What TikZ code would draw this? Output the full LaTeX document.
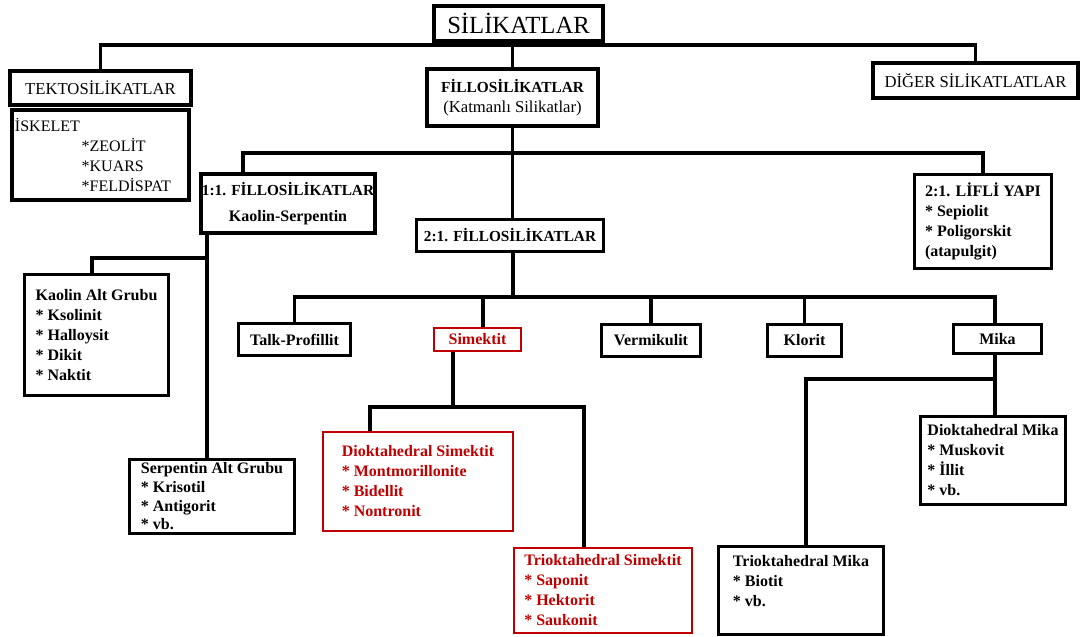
\documentclass[tikz,border=0pt]{standalone}
\usepackage{fontspec}
\setmainfont{Liberation Serif}
\usepackage{tikz}
\definecolor{kirmizi}{RGB}{192,0,0}

\begin{document}
\begin{tikzpicture}
            [x=0.75pt, y=-0.75pt,
             every node/.style={inner sep=0pt, fill=white},
             kalin/.style={draw=black, line width=3pt},
             orta/.style={draw=black, line width=2.3pt},
             kirmizikutu/.style={draw=kirmizi, line width=1.9pt, text=kirmizi},
             baslik/.style={font=\fontsize{12}{15}\selectfont\bfseries},
             liste/.style={align=left, font=\fontsize{12}{15}\selectfont\bfseries},
             hat/.style={line width=2.8pt}]
                \fill [white] (0,0) rectangle (1086,636);
                \useasboundingbox (0,0) rectangle (1086,636);
                % ust seviye
                \node (sil) [kalin, minimum width=126.75pt, minimum height=26.25pt, font=\fontsize{18.5}{20}\selectfont] at (518.5,23.5) {SİLİKATLAR};
                \node (tek) [kalin, minimum width=135.75pt, minimum height=25.5pt, font=\fontsize{12.5}{15}\selectfont] at (100.5,88) {TEKTOSİLİKATLAR};
                \node (isk) [kalin, minimum height=67.5pt, text width=128.25pt, inner xsep=2.25pt, align=left, font=\fontsize{12}{15}\selectfont] at (100.5,155) {İSKELET\\\hspace*{50pt}*ZEOLİT\\\hspace*{50pt}*KUARS\\\hspace*{50pt}*FELDİSPAT};
                \node (fil) [kalin, minimum width=128.25pt, minimum height=42.75pt, align=center, font=\fontsize{11.5}{15}\selectfont] at (512.5,97.5) {\bfseries FİLLOSİLİKATLAR\\\fontsize{12.5}{15}\selectfont(Katmanlı Silikatlar)};
                \node (dig) [kalin, minimum width=153.75pt, minimum height=26.25pt, font=\fontsize{12.5}{15}\selectfont] at (975.5,80.5) {DİĞER SİLİKATLATLAR};
                % fillosilikatlar
                \node (bir) [kalin, minimum width=130.5pt, minimum height=44.25pt, align=center, font=\fontsize{11.5}{14}\selectfont\bfseries] at (288,203.5) {1:1. FİLLOSİLİKATLAR\\[5pt]\fontsize{12}{14}\selectfont Kaolin-Serpentin};
                \node (iki) [orta, minimum width=140.25pt, minimum height=24pt, font=\fontsize{11.5}{14}\selectfont\bfseries] at (510,235.5) {2:1. FİLLOSİLİKATLAR};
                \node (lif) [orta, liste, minimum width=102.75pt, minimum height=70.5pt] at (983,221.5) {2:1. LİFLİ YAPI\\{*} Sepiolit\\{*} Poligorskit\\(atapulgit)};
                % 2:1 gruplari
                \node (talk) [orta, baslik, minimum width=84pt, minimum height=24pt] at (294.5,339.5) {Talk-Profillit};
                \node (sim) [kirmizikutu, baslik, minimum width=65.25pt, minimum height=17.25pt] at (477.5,339.5) {Simektit};
                \node (ver) [orta, baslik, minimum width=74.25pt, minimum height=24pt] at (651,340.5) {Vermikulit};
                \node (klo) [orta, baslik, minimum width=55.5pt, minimum height=24pt] at (804.5,340.5) {Klorit};
                \node (mik) [orta, baslik, minimum width=66pt, minimum height=21.75pt] at (997.5,339) {Mika};
                % alt gruplar
                \node (kao) [orta, liste, minimum width=108pt, minimum height=90.75pt] at (96.5,335) {Kaolin Alt Grubu\\{*} Ksolinit\\{*} Halloysit\\{*} Dikit\\{*} Naktit};
                \node (ser) [orta, liste, minimum width=123.75pt, minimum height=55.5pt, font=\fontsize{12}{14}\selectfont\bfseries] at (212,496.5) {Serpentin Alt Grubu\\{*} Krisotil\\{*} Antigorit\\{*} vb.};
                \node (dio) [kirmizikutu, liste, minimum width=142.5pt, minimum height=74.25pt] at (418,481.5) {Dioktahedral Simektit\\{*} Montmorillonite\\{*} Bidellit\\{*} Nontronit};
                \node (tri) [kirmizikutu, liste, minimum width=133.5pt, minimum height=63.75pt] at (603,590.5) {Trioktahedral Simektit\\{*} Saponit\\{*} Hektorit\\{*} Saukonit};
                \node (dmik) [orta, liste, minimum width=108.75pt, minimum height=66pt] at (993,460.5) {Dioktahedral Mika\\{*} Muskovit\\{*} İllit\\{*} vb.};
                \node (tmik) [orta, liste, minimum width=123.75pt, minimum height=66pt] at (801,590.5) {Trioktahedral Mika\\{*} Biotit\\{*} vb.\\\mbox{}};
                % baglantilar
                \coordinate (h1) at (513,45);
                \coordinate (h2) at (513,153);
                \coordinate (b1) at (243,153);
                \coordinate (h3) at (513,297);
                \coordinate (s1) at (483,297);
                \coordinate (s2) at (453,407);
                \coordinate (s3) at (370,407);
                \coordinate (s4) at (584,407);
                \coordinate (m1) at (806,379);
                \coordinate (m2) at (995,379);
                \coordinate (k1) at (207,258);
                \coordinate (k2) at (92,258);
                \draw [hat] (tek.north) |- (h1) -| (dig.north);
                \draw [hat] (fil.north |- sil.south) -- (fil.north);
                \draw [hat] (fil.south) -- (fil.south |- iki.north);
                \draw [hat] (b1 |- bir.north) -- (b1) -| (lif.north);
                \draw [hat] (h3 |- iki.south) -- (h3);
                \draw [hat] (talk.north) |- (h3) -| (m2 |- mik.north);
                \draw [hat] (s1) -- (s1 |- sim.north);
                \draw [hat] (ver.north |- h3) -- (ver.north);
                \draw [hat] (klo.north |- h3) -- (klo.north);
                \draw [hat] (s2 |- sim.south) -- (s2);
                \draw [hat] (s3 |- dio.north) -- (s3) -- (s4) -- (s4 |- tri.north);
                \draw [hat] (m2 |- mik.south) -- (m2 |- dmik.north);
                \draw [hat] (m1 |- tmik.north) -- (m1) -- (m2);
                \draw [hat] (k1 |- bir.south) -- (k1 |- ser.north);
                \draw [hat] (k1) -- (k2) -- (k2 |- kao.north);
            \end{tikzpicture}
\end{document}
